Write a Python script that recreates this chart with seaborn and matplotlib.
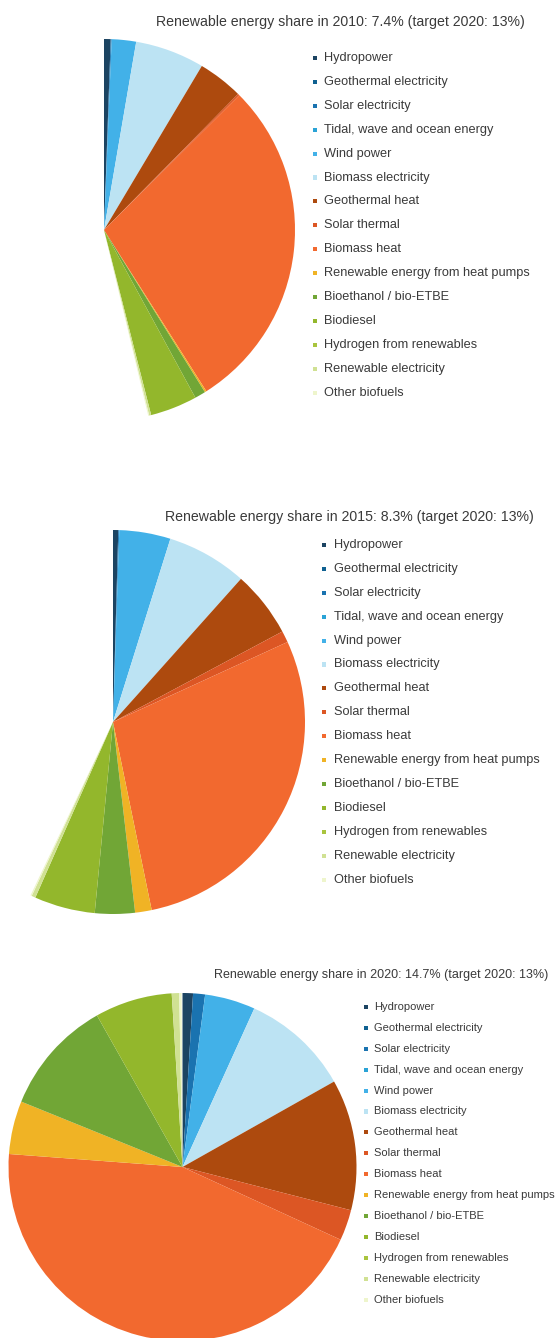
import matplotlib
matplotlib.use("Agg")
import matplotlib.pyplot as plt
import seaborn as sns

sns.set_theme(style="white")
plt.rcParams["font.family"] = ["Liberation Sans", "DejaVu Sans"]

# Categories, in the order they are stacked clockwise from 12 o'clock
categories = [
    "Hydropower",
    "Geothermal electricity",
    "Solar electricity",
    "Tidal, wave and ocean energy",
    "Wind power",
    "Biomass electricity",
    "Geothermal heat",
    "Solar thermal",
    "Biomass heat",
    "Renewable energy from heat pumps",
    "Bioethanol / bio-ETBE",
    "Biodiesel",
    "Hydrogen from renewables",
    "Renewable electricity",
    "Other biofuels",
]

colors = [
    "#1c4462", "#0f6191", "#1a73b0", "#2aa3d6", "#42b1e8", "#bce3f3",
    "#ad4a0e", "#dc5624", "#f2692f", "#f0b325", "#71a636", "#93b72c",
    "#a9c43e", "#d0e193", "#eef5cc",
]

# Contributions as fractions of the full circle (full circle = 2020 total)
share_2010 = [0.0056, 0.0, 0.0008, 0.0, 0.0206, 0.0586, 0.0383, 0.0014,
              0.2847, 0.0014, 0.0092, 0.0397, 0.0, 0.0017, 0.0008]
share_2015 = [0.0044, 0.0, 0.0008, 0.0, 0.0431, 0.0678, 0.0558, 0.0097,
              0.2861, 0.0139, 0.0336, 0.0511, 0.0, 0.0033, 0.0011]
share_2020 = [0.0097, 0.0, 0.0111, 0.0, 0.0469, 0.1006, 0.1217, 0.0286,
              0.4433, 0.0494, 0.1069, 0.0719, 0.0, 0.0069, 0.0022]

titles = [
    "Renewable energy share in 2010: 7.4% (target 2020: 13%)",
    "Renewable energy share in 2015: 8.3% (target 2020: 13%)",
    "Renewable energy share in 2020: 14.7% (target 2020: 13%)",
]

W, H = 556, 1338
fig = plt.figure(figsize=(W / 100, H / 100), dpi=100)

# panel layout in pixels: pie centre, radius, title, legend geometry
panels = [
    dict(data=share_2010, cx=104, cy=230, r=191, tx=340, ty=22, tfs=10.2,
         mx=315, lx=324, ly0=58, dy=23.9, lfs=9.2),
    dict(data=share_2015, cx=113, cy=722, r=192, tx=349, ty=517, tfs=10.2,
         mx=324, lx=334, ly0=545, dy=23.9, lfs=9.2),
    dict(data=share_2020, cx=182.5, cy=1167, r=174, tx=381, ty=975, tfs=9.0,
         mx=366, lx=374, ly0=1007, dy=20.9, lfs=8.0),
]

text_color = "#3a3a3a"

for p in panels:
    left = (p["cx"] - p["r"]) / W
    bottom = (H - p["cy"] - p["r"]) / H
    ax = fig.add_axes([left, bottom, 2 * p["r"] / W, 2 * p["r"] / H])
    ax.pie(p["data"], colors=colors, startangle=90, counterclock=False,
           normalize=False, radius=1.0,
           wedgeprops=dict(linewidth=0, antialiased=True))
    ax.set_xlim(-1, 1)
    ax.set_ylim(-1, 1)
    ax.set_aspect("auto")
    ax.axis("off")

# overlay in pixel coordinates for titles and legends
ov = fig.add_axes([0, 0, 1, 1], zorder=5)
ov.set_xlim(0, W)
ov.set_ylim(H, 0)
ov.axis("off")
ov.patch.set_alpha(0)

for p, title in zip(panels, titles):
    ov.text(p["tx"], p["ty"], title, ha="center", va="center",
            fontsize=p["tfs"], color=text_color)
    ys = [p["ly0"] + i * p["dy"] for i in range(len(categories))]
    ov.scatter([p["mx"]] * len(categories), ys, marker="s", s=9,
               c=colors, linewidths=0)
    for y, label in zip(ys, categories):
        ov.text(p["lx"], y, label, ha="left", va="center",
                fontsize=p["lfs"], color=text_color)

fig.savefig("out.png", dpi=100)
